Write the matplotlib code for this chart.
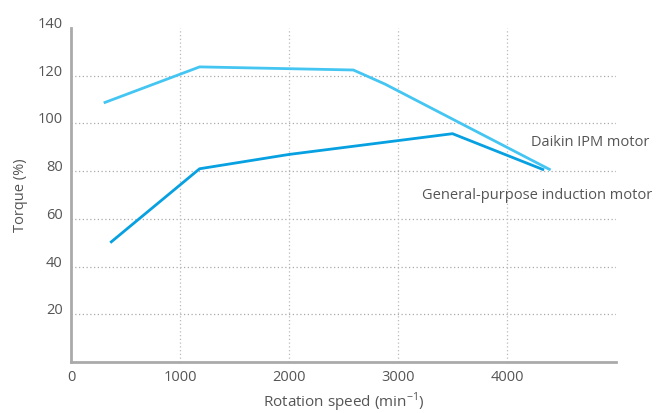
import matplotlib
matplotlib.use("Agg")
import matplotlib.pyplot as plt

ipm_x = [300, 1180, 2590, 2880, 4400]
ipm_y = [108.6, 123.7, 122.4, 116.5, 80.5]
gen_x = [360, 1180, 2000, 3500, 4340]
gen_y = [50, 81, 87, 95.7, 80.5]
xticks = [0, 1000, 2000, 3000, 4000]
yticks = [20, 40, 60, 80, 100, 120, 140]
grid_y = [20, 40, 60, 80, 100, 120]
grid_x = [1000, 2000, 3000, 4000]

plt.rcParams['font.family'] = ['Open Sans', 'DejaVu Sans']

fig = plt.figure(figsize=(6.68, 4.13), dpi=100)
ax = fig.add_axes([71/668, 1-362/413, (616-71)/668, (362-28)/413])
ax.set_xlim(0, 5000)
ax.set_ylim(0, 140)

for g in grid_y:
    ax.axhline(g, color='#aaaaaa', lw=0.9, ls=(0, (1, 2)), zorder=1)
for g in grid_x:
    ax.axvline(g, color='#bbbbbb', lw=0.9, ls=(0, (1, 2)), zorder=1)

ax.plot(ipm_x, ipm_y, color='#45c6f2', lw=2, zorder=3, solid_capstyle='butt')
ax.plot(gen_x, gen_y, color='#07a0e0', lw=2, zorder=3, solid_capstyle='butt')

ax.text(5310, 92.2, 'Daikin IPM motor', ha='right', va='center', fontsize=10.5,
        color='#555555', clip_on=False)
ax.text(5330, 69.6, 'General-purpose induction motor', ha='right', va='center',
        fontsize=10.5, color='#555555', clip_on=False)

for s in ['top', 'right']:
    ax.spines[s].set_visible(False)
for s in ['left', 'bottom']:
    ax.spines[s].set_color('#aaaaaa')
    ax.spines[s].set_linewidth(2)

ax.set_xticks(xticks)
ax.set_yticks(yticks)
ax.tick_params(length=0, labelsize=10.5, labelcolor='#555555', pad=6)
for lab in ax.get_yticklabels():
    lab.set_verticalalignment('baseline')
ax.set_ylabel('Torque (%)', fontsize=10.5, color='#555555', labelpad=7)
ax.set_xlabel(r'Rotation speed (min$^{\mathregular{-1}}$)', fontsize=11, color='#555555', labelpad=4)

fig.savefig('out.png', dpi=100)
